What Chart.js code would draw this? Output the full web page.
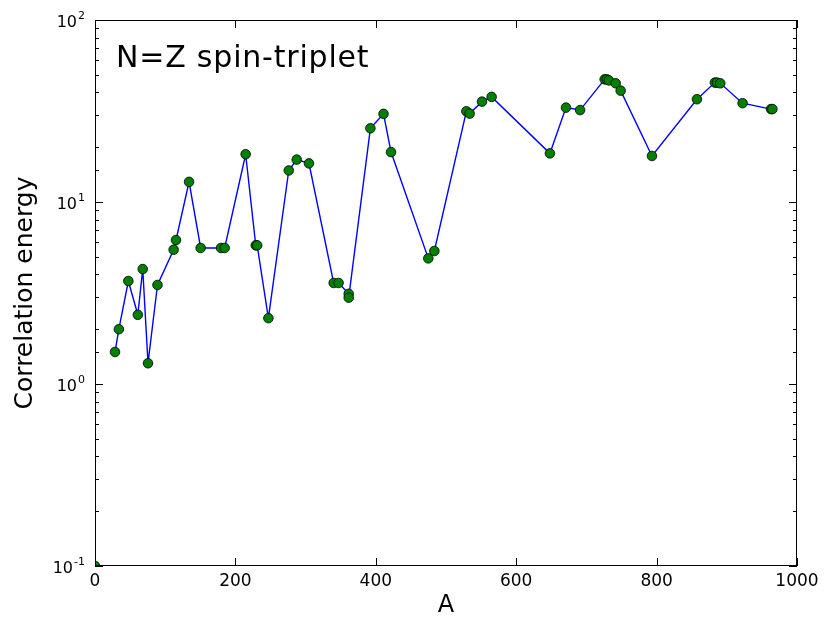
<!DOCTYPE html>
<html>
<head>
<meta charset="utf-8">
<script src="https://cdn.jsdelivr.net/npm/chart.js@4/dist/chart.umd.min.js"></script>
<style>
  html, body { margin: 0; padding: 0; background: #fff; }
  #wrap { width: 829px; height: 618px; }
</style>
</head>
<body>
<div id="wrap"><canvas id="corrChart" width="829" height="618"></canvas></div>
<script>
// datos
const massNumbers = [28.5, 34, 47.5, 61, 68, 75.5, 89, 112, 115.4, 134, 150.5, 179.5, 184.7, 214.6, 229, 231, 247,
    276, 287.3, 304.8, 340, 347, 361.4, 361.4, 392.3, 411, 421.7, 474.8, 483.4, 529, 533.7, 551.3, 565, 648,
    670.9, 691, 726, 729, 732, 741.7, 748.8, 793.4, 857.5, 883, 886, 890.7, 922.5, 963, 965];
const corrEnergy = [1.5, 2.0, 3.68, 2.4, 4.28, 1.3, 3.5, 5.47, 6.18, 12.9, 5.59, 5.59, 5.59, 18.3, 5.78, 5.78, 2.3,
    14.9, 17.1, 16.3, 3.59, 3.59, 3.13, 2.98, 25.4, 30.5, 18.8, 4.9, 5.38, 31.5, 30.6, 35.6, 37.8, 18.5,
    33.0, 32.0, 47.2, 47.2, 46.6, 44.9, 40.9, 17.9, 36.7, 45.3, 45.3, 44.9, 34.9, 32.4, 32.4];
const cornerA = [0];
const cornerEnergy = [0.1];
const xTicks = [0, 200, 400, 600, 800, 1000];
const yDecades = [0.1, 1, 10, 100];
const yExponents = ['-1', '0', '1', '2'];

const font = 'DejaVu Sans';

// marco, marcas hacia dentro, etiquetas 10^n y textos
const frameTicks = {
    id: 'frameTicks',
    afterDraw(chart) {
        const ctx = chart.ctx;
        const a = chart.chartArea;
        const xs = chart.scales.x;
        const ys = chart.scales.y;
        ctx.save();
        ctx.strokeStyle = '#000';
        ctx.lineWidth = 1;
        ctx.strokeRect(a.left + 0.5, a.top + 0.5, a.right - a.left - 1, a.bottom - a.top - 1);
        ctx.beginPath();
        xTicks.forEach(v => {
            const px = Math.round(xs.getPixelForValue(v)) + 0.5;
            ctx.moveTo(px, a.bottom); ctx.lineTo(px, a.bottom - 8);
            ctx.moveTo(px, a.top); ctx.lineTo(px, a.top + 8);
        });
        ys.ticks.forEach(t => {
            const py = Math.round(ys.getPixelForValue(t.value)) + 0.5;
            const len = yDecades.includes(t.value) ? 8 : 4;
            ctx.moveTo(a.left, py); ctx.lineTo(a.left + len, py);
            ctx.moveTo(a.right, py); ctx.lineTo(a.right - len, py);
        });
        ctx.stroke();

        ctx.fillStyle = '#000';
        ctx.textBaseline = 'alphabetic';
        // etiquetas del eje y
        yDecades.forEach((v, i) => {
            const py = ys.getPixelForValue(v);
            ctx.font = '11px "' + font + '"';
            const ew = ctx.measureText(yExponents[i]).width;
            ctx.textAlign = 'right';
            ctx.fillText(yExponents[i], 85, py - 1);
            ctx.font = '16px "' + font + '"';
            ctx.fillText('10', 85 - ew - 1, py + 7);
        });

        ctx.textAlign = 'left';
        ctx.font = '30px "' + font + '"';
        ctx.letterSpacing = '0.8px';
        ctx.fillText('N=Z spin-triplet', a.left + 21, 67);
        ctx.letterSpacing = '0px';

        ctx.font = '24px "' + font + '"';
        ctx.textAlign = 'center';
        ctx.fillText('A', (a.left + a.right) / 2, 612);
        ctx.font = '25px "' + font + '"';
        ctx.translate(32, (a.top + a.bottom) / 2);
        ctx.rotate(-Math.PI / 2);
        ctx.fillText('Correlation energy', 0, 0);
        ctx.restore();
    }
};

const ctxCorr = document.getElementById('corrChart').getContext('2d');

const corrChart = new Chart(ctxCorr, {
    type: 'line',
    data: {
        datasets: [{
            data: massNumbers.map((a, i) => ({ x: a, y: corrEnergy[i] })),
            borderColor: '#0000ff',
            borderWidth: 1.4,
            pointBackgroundColor: '#008000',
            pointBorderColor: '#000',
            pointBorderWidth: 0.8,
            pointRadius: 4.8,
            tension: 0
        }, {
            data: cornerA.map((a, i) => ({ x: a, y: cornerEnergy[i] })),
            showLine: false,
            pointBackgroundColor: '#008000',
            pointBorderColor: '#000',
            pointBorderWidth: 0.8,
            pointRadius: 4.8,
            clip: 0
        }]
    },
    options: {
        responsive: false,
        animation: false,
        events: [],
        layout: { padding: { top: 20, right: 32, left: 0, bottom: 0 } },
        plugins: { legend: { display: false }, tooltip: { enabled: false } },
        scales: {
            x: {
                type: 'linear',
                min: 0,
                max: 1000,
                afterFit: s => { s.height = 52; },
                afterBuildTicks: s => { s.ticks = xTicks.map(v => ({ value: v })); },
                grid: { display: false, drawTicks: false },
                border: { display: false },
                ticks: {
                    color: '#000',
                    font: { family: font, size: 17 },
                    padding: 5,
                    maxRotation: 0,
                    callback: v => String(v)
                }
            },
            y: {
                type: 'logarithmic',
                min: 0.1,
                max: 100,
                afterFit: s => { s.width = 95; },
                grid: { display: false, drawTicks: false },
                border: { display: false },
                ticks: { autoSkip: false, display: false }
            }
        }
    },
    plugins: [frameTicks]
});
</script>
</body>
</html>
